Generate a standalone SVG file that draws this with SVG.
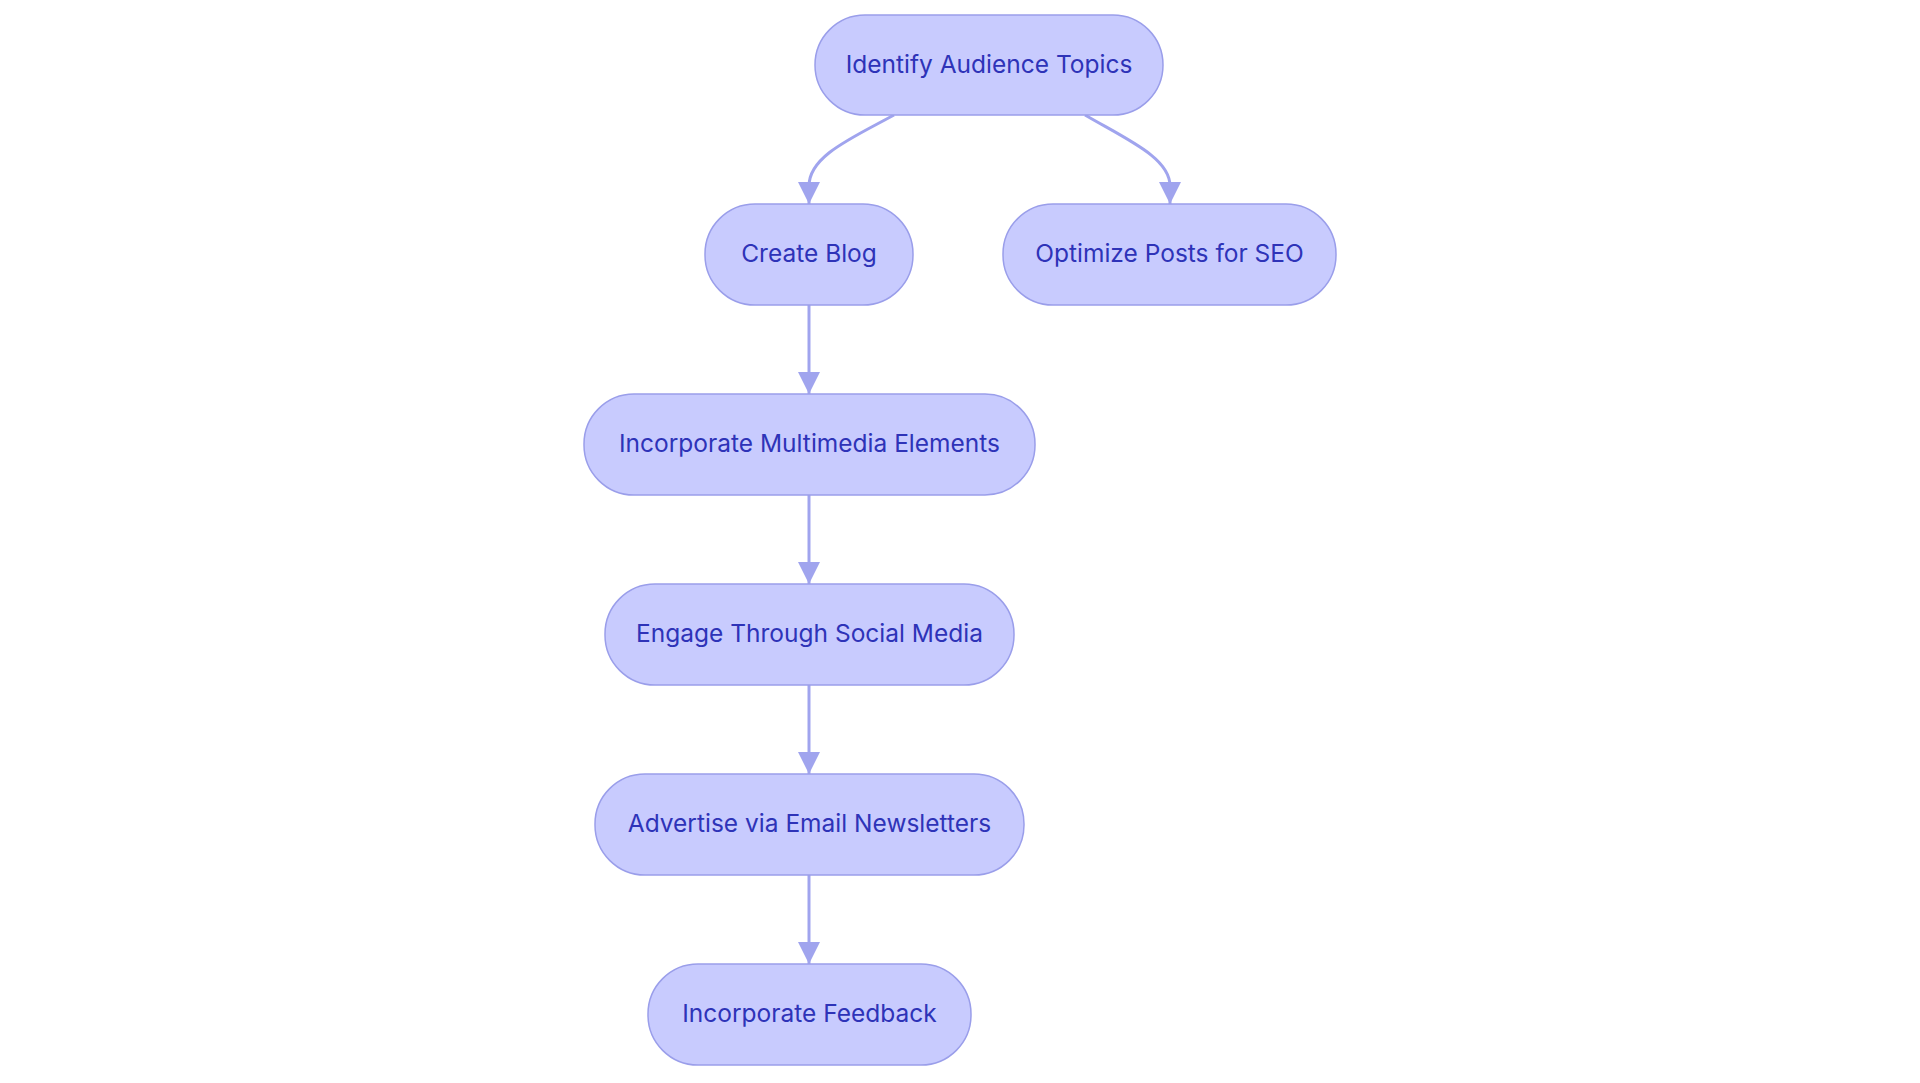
<svg xmlns="http://www.w3.org/2000/svg" width="1920" height="1083" viewBox="0 0 1920 1083">
<style>
.node rect{fill:#C8CBFE;stroke:#9A9EEA;stroke-width:1.5}
.node text{font-family:Inter,"Noto Sans",sans-serif;font-size:24.5px;fill:#2E33B8;text-anchor:middle}
.edge{fill:none;stroke:#A0A4EE;stroke-width:3}
</style>
<defs>
<marker id="arr" markerUnits="userSpaceOnUse" markerWidth="22" markerHeight="22" refX="22" refY="11" orient="auto" viewBox="0 0 22 22">
<path d="M0,0 L22,11 L0,22 Z" fill="#A0A4EE"/>
</marker>
</defs>
<rect width="1920" height="1083" fill="#ffffff"/>
<g id="connectors">
<path class="edge" d="M894,115 C852,138 809,156 809,186 L809,204" marker-end="url(#arr)"/>
<path class="edge" d="M1085,115 C1128,140 1170,158 1170,186 L1170,204" marker-end="url(#arr)"/>
<path class="edge" d="M809,305 L809,394" marker-end="url(#arr)"/>
<path class="edge" d="M809,495 L809,584" marker-end="url(#arr)"/>
<path class="edge" d="M809,685 L809,774" marker-end="url(#arr)"/>
<path class="edge" d="M809,875 L809,964" marker-end="url(#arr)"/>
</g>
<g id="n1" class="node"><rect x="815" y="15" width="348" height="100" rx="50"/><text x="989" y="72.5">Identify Audience Topics</text></g>
<g id="n2" class="node"><rect x="705" y="204" width="208" height="101" rx="50"/><text x="809" y="262">Create Blog</text></g>
<g id="n3" class="node"><rect x="1003" y="204" width="333" height="101" rx="50"/><text x="1169.5" y="262">Optimize Posts for SEO</text></g>
<g id="n4" class="node"><rect x="584" y="394" width="451" height="101" rx="50"/><text x="809.5" y="452">Incorporate Multimedia Elements</text></g>
<g id="n5" class="node"><rect x="605" y="584" width="409" height="101" rx="50"/><text x="809.5" y="642">Engage Through Social Media</text></g>
<g id="n6" class="node"><rect x="595" y="774" width="429" height="101" rx="50"/><text x="809.5" y="832">Advertise via Email Newsletters</text></g>
<g id="n7" class="node"><rect x="648" y="964" width="323" height="101" rx="50"/><text x="809.5" y="1022">Incorporate Feedback</text></g>
</svg>
